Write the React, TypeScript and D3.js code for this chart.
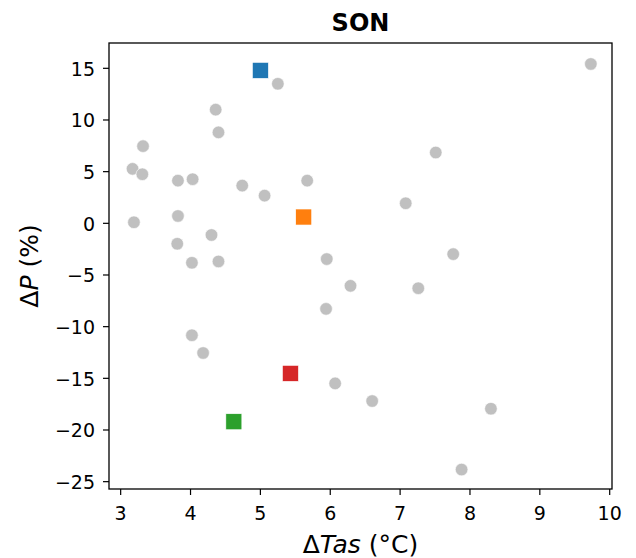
import React from "react";
import * as d3 from "d3";

const grayX = [5.25, 4.36, 4.4, 3.32, 3.17, 3.31, 3.82, 4.03, 4.74, 5.06, 5.67, 7.51, 7.08, 3.19, 3.82, 4.3, 3.81, 4.02, 4.4, 5.95, 7.76, 6.29, 7.26, 9.73, 5.94, 4.02, 4.18, 6.07, 6.6, 8.3, 7.88];
const grayY = [13.5, 11.0, 8.8, 7.47, 5.27, 4.75, 4.13, 4.27, 3.65, 2.68, 4.13, 6.85, 1.94, 0.1, 0.71, -1.13, -1.98, -3.82, -3.69, -3.46, -2.98, -6.05, -6.28, 15.42, -8.28, -10.83, -12.55, -15.49, -17.2, -17.94, -23.83];
const modelX = [5.0, 5.62, 4.62, 5.43];
const modelY = [14.8, 0.61, -19.2, -14.52];
const modelColors = ["#1f77b4", "#ff7f0e", "#2ca02c", "#d62728"];
const xTicks = [3, 4, 5, 6, 7, 8, 9, 10];
const yTicks = [15, 10, 5, 0, -5, -10, -15, -20, -25];
const title = "SON";

const W = 636, H = 558;
const L = 109, R = 612, T = 43, B = 489;

export default function App() {
  const x = d3.scaleLinear().domain([2.833, 10.033]).range([L, R]);
  const y = d3.scaleLinear().domain([-25.71, 17.45]).range([B, T]);
  const font = "DejaVu Sans, sans-serif";
  return (
    <svg width={W} height={H} style={{ position: "absolute", left: 0, top: 0, background: "#fff" }} fontFamily={font}>
      <rect x={0} y={0} width={W} height={H} fill="#fff" />
      <text x={(L + R) / 2} y={31} textAnchor="middle" fontSize={24} fontWeight="bold" fill="#000">{title}</text>
      {grayX.map((v, i) => (
        <circle key={"g" + i} cx={x(v)} cy={y(grayY[i])} r={6.3} fill="#c0c0c0" stroke="#fff" strokeWidth={0.6} />
      ))}
      {modelX.map((v, i) => (
        <rect key={"m" + i} x={x(v) - 8} y={y(modelY[i]) - 8} width={16} height={16} fill={modelColors[i]} stroke="#fff" strokeWidth={0.6} />
      ))}
      <rect x={L} y={T} width={R - L} height={B - T} fill="none" stroke="#000" strokeWidth={1.3} />
      {xTicks.map((t) => (
        <g key={"xt" + t}>
          <line x1={x(t)} x2={x(t)} y1={B} y2={B + 6} stroke="#000" strokeWidth={1.2} />
          <text x={x(t)} y={520} textAnchor="middle" fontSize={19} fill="#000">{t}</text>
        </g>
      ))}
      {yTicks.map((t) => (
        <g key={"yt" + t}>
          <line x1={L - 6} x2={L} y1={y(t)} y2={y(t)} stroke="#000" strokeWidth={1.2} />
          <text x={L - 14} y={y(t) + 7.5} textAnchor="end" fontSize={19} fill="#000">{t < 0 ? "\u2212" + Math.abs(t) : t}</text>
        </g>
      ))}
      <text x={(L + R) / 2} y={553} textAnchor="middle" fontSize={25} fill="#000">
        Δ<tspan fontStyle="italic">Tas</tspan> (°C)
      </text>
      <text transform={`translate(38,${(T + B) / 2}) rotate(-90)`} textAnchor="middle" fontSize={25} fill="#000">
        Δ<tspan fontStyle="italic">P</tspan> (%)
      </text>
    </svg>
  );
}
